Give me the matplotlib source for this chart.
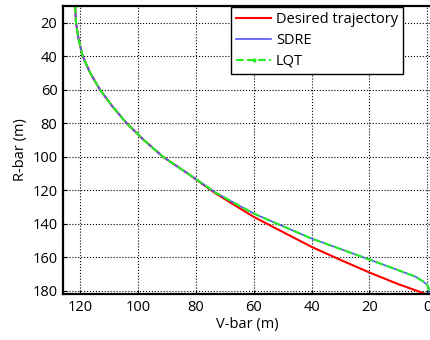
import matplotlib
matplotlib.use('Agg')
from matplotlib import pyplot as plt

plt.rcParams['font.family'] = ['Open Sans', 'DejaVu Sans']

# desired trajectory (V-bar, R-bar)
r_des = [10, 20, 30, 40, 50, 60, 70, 80, 90, 100, 110, 122, 129, 136, 144, 154, 162, 169, 176, 182]
v_des = [121.7, 121.4, 120.5, 119.1, 116.5, 113.1, 108.8, 103.9, 98.0, 91.4, 82.8, 73.1, 66.5,
         59.9, 51.0, 39.8, 29.5, 20.2, 10.2, 0.5]

# SDRE response
r_sdre = [10, 20, 30, 40, 50, 60, 70, 80, 90, 100, 110, 121.5, 128, 134, 141, 149, 155, 161.3,
          166, 171.6, 174.5, 176.6, 178.5, 182]
v_sdre = [121.7, 121.4, 120.5, 119.1, 116.5, 113.1, 108.8, 103.9, 98.0, 91.4, 82.8, 73.1, 66.3,
          59.9, 50.6, 39.8, 30.2, 20.2, 12.8, 4.1, 1.4, 0.0, -0.5, -0.6]

# LQT response
r_lqt = [10, 20, 30, 40, 50, 60, 70, 80, 90, 100, 110, 121.5, 128, 134, 141, 149, 155, 161.3,
         166, 171.6, 174.5, 176.6, 178.5, 182]
v_lqt = [121.7, 121.4, 120.5, 119.1, 116.5, 113.1, 108.8, 103.9, 98.0, 91.4, 82.8, 73.1, 66.3,
         59.9, 50.6, 39.8, 30.2, 20.2, 12.8, 4.1, 1.4, 0.0, -0.5, -0.6]

xticks = [120, 100, 80, 60, 40, 20, 0]
yticks = [20, 40, 60, 80, 100, 120, 140, 160, 180]

fig = plt.figure(figsize=(4.31, 3.40), dpi=100)
ax = fig.add_axes([63/431, 46/340, 368/431, 288/340])

ax.plot(v_des, r_des, color='#ff0000', lw=1.5, label='Desired trajectory')
ax.plot(v_sdre, r_sdre, color='#5555ff', lw=1.2, label='SDRE')
ax.plot(v_lqt, r_lqt, '--', color='#22ee22', lw=1.5, marker='.', markersize=4,
        markevery=[0], label='LQT')

ax.set_xlim(125.9, -1.3)
ax.set_ylim(182, 10)
ax.set_xticks(xticks)
ax.set_yticks(yticks)
ax.grid(True, color='black', linestyle=':', linewidth=0.8)
ax.tick_params(direction='in', length=3, labelsize=10.5, pad=4)
for s in ['left', 'bottom', 'top']:
    ax.spines[s].set_linewidth(1.6)
ax.spines['right'].set_visible(False)
ax.set_xlabel('V-bar (m)', fontsize=10.5, labelpad=2)
ax.set_ylabel('R-bar (m)', fontsize=10.5, labelpad=3)

leg = ax.legend(loc='upper right', bbox_to_anchor=(0.924, 0.997), borderaxespad=0,
                fontsize=10.5, fancybox=False, edgecolor='black', framealpha=1,
                handlelength=2.4, handletextpad=0.3, labelspacing=0.4,
                borderpad=0.35)
leg.get_frame().set_linewidth(1.0)

fig.savefig('out.png', dpi=100)
